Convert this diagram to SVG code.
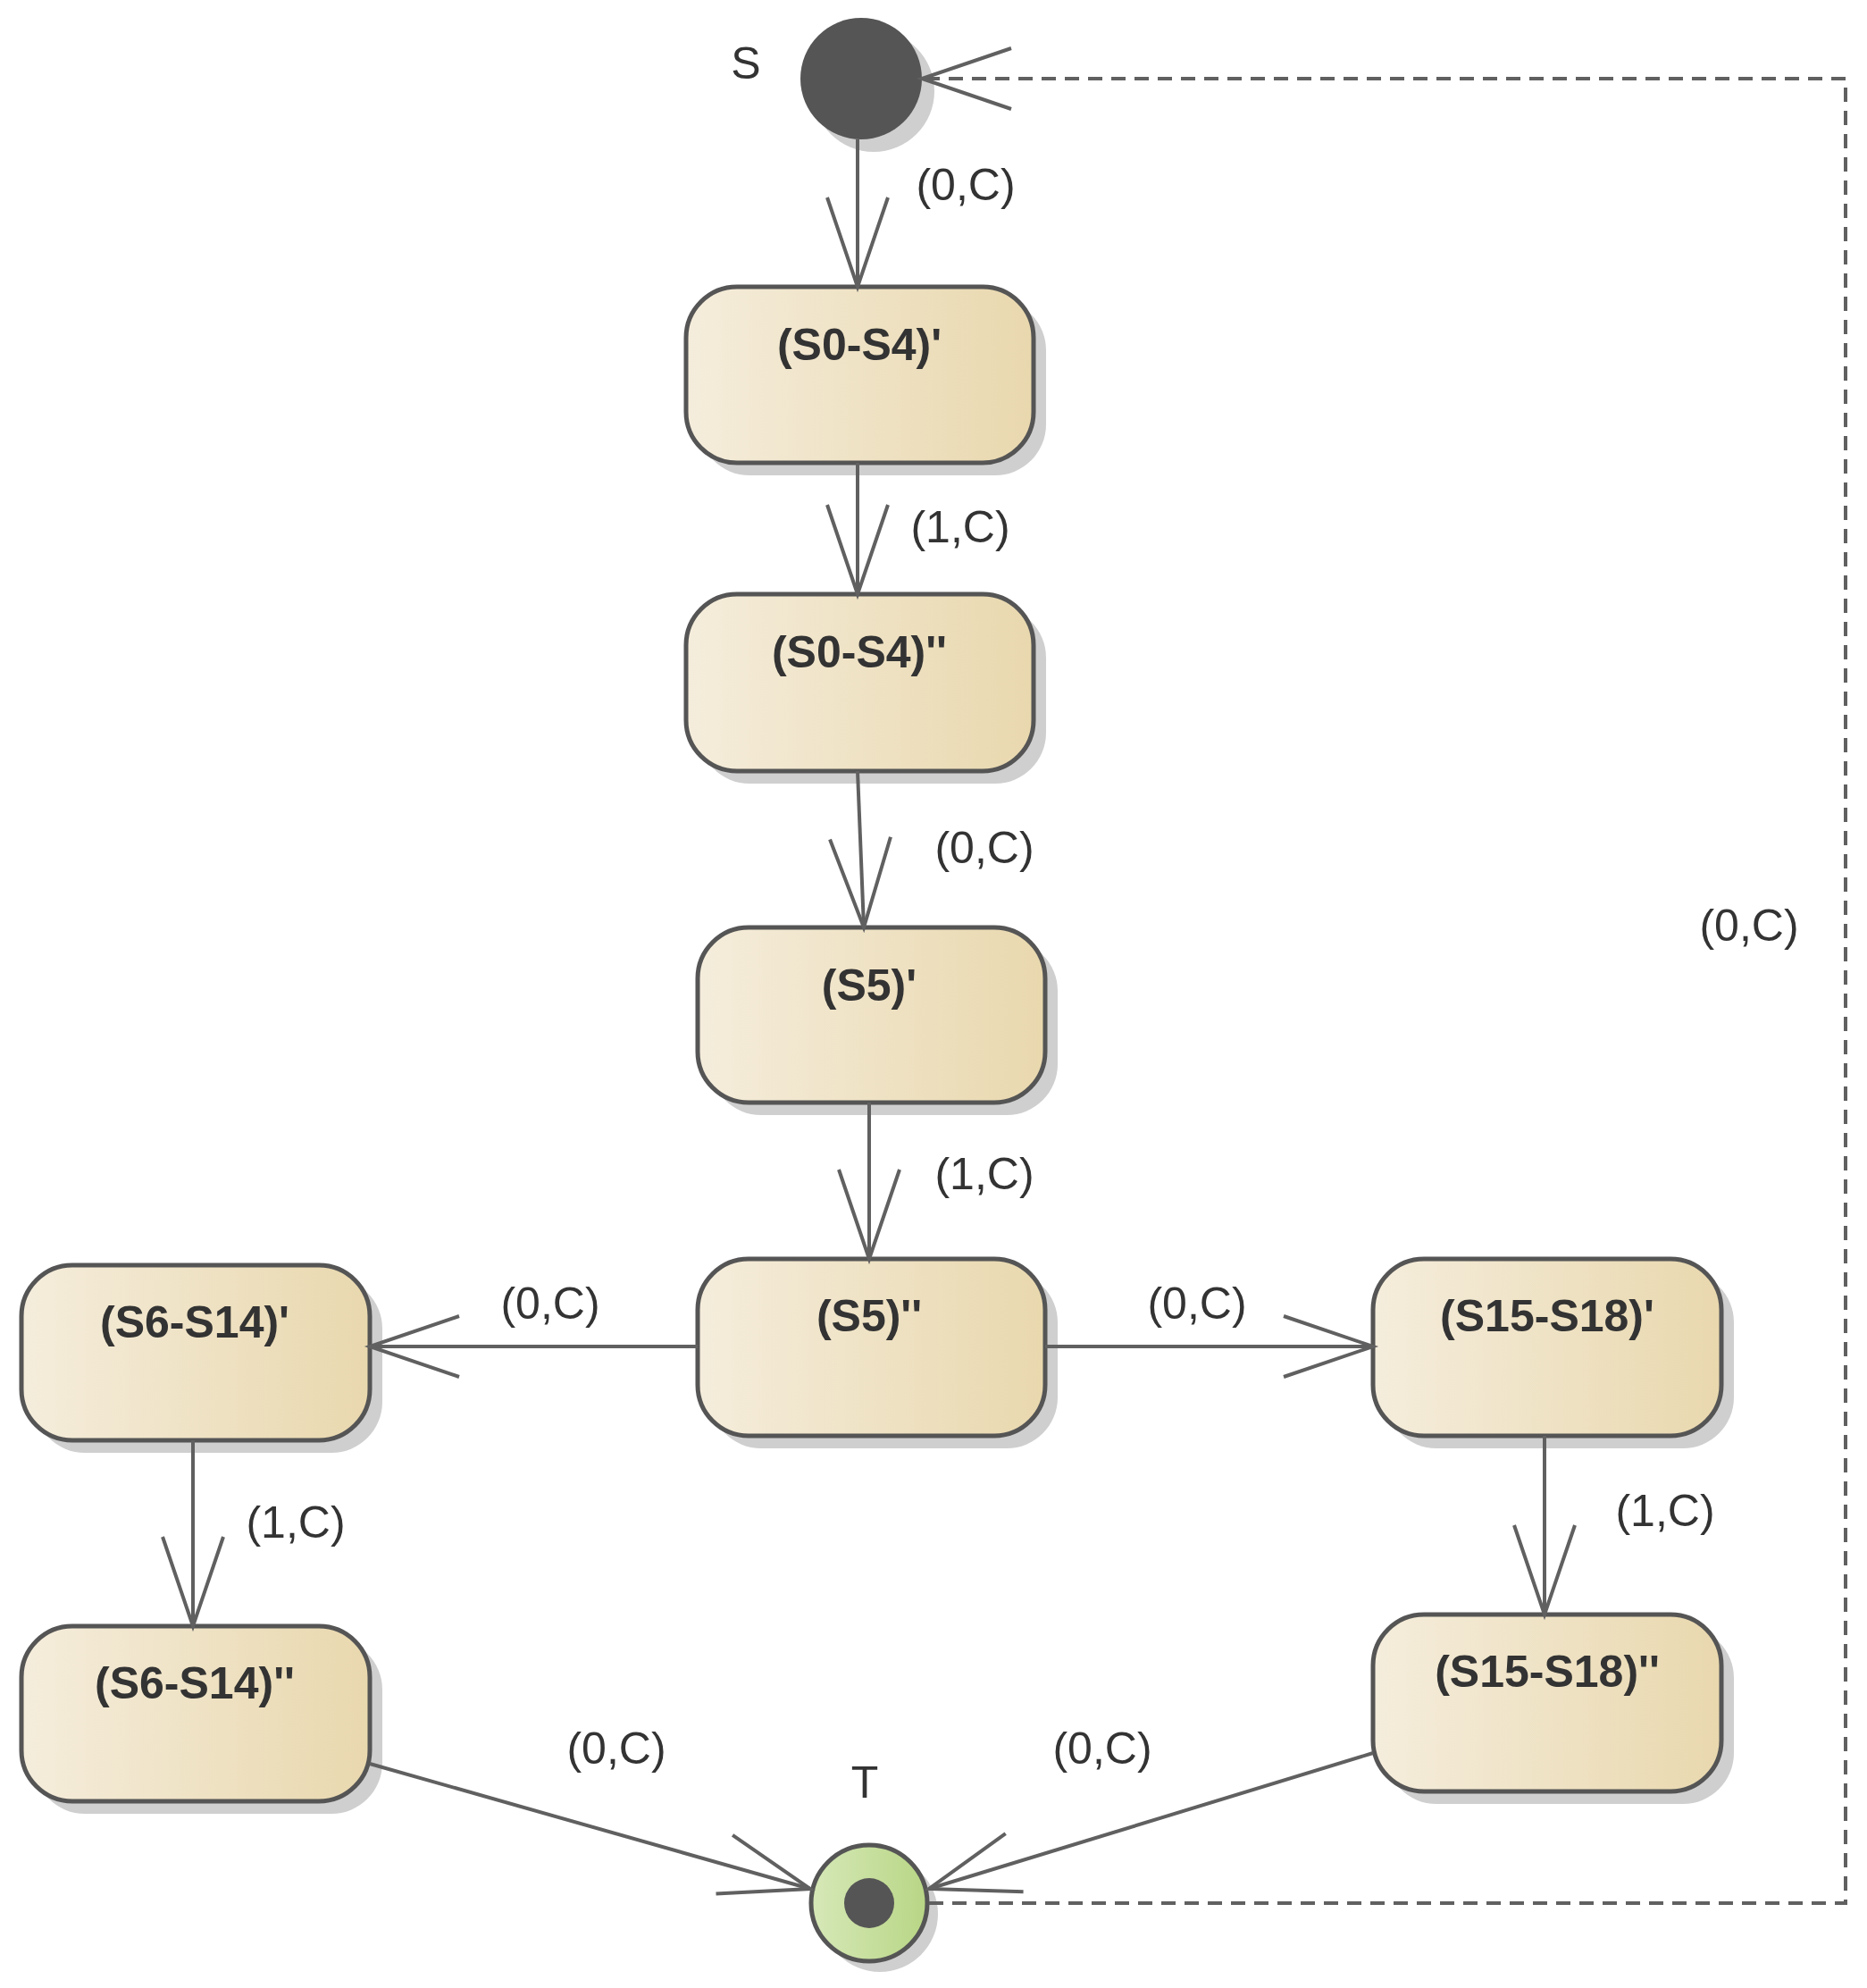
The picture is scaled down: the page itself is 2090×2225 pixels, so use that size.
<svg xmlns="http://www.w3.org/2000/svg" width="2090" height="2225" viewBox="0 0 2090 2225">
<style>
.box{fill:url(#g);stroke:#555;stroke-width:5}
.sh{fill:#cfcfcf}
.nt{font-family:"Liberation Sans",Arial,sans-serif;font-weight:bold;font-size:50px;fill:#333;text-anchor:middle}
.lb{font-family:"Liberation Sans",Arial,sans-serif;font-size:50px;fill:#333;text-anchor:middle}
.c{fill:none;stroke:#606060;stroke-width:4;marker-end:url(#a)}
.d{fill:none;stroke:#606060;stroke-width:4;stroke-dasharray:16 10;marker-end:url(#a)}
</style>
<defs>
<linearGradient id="g" x1="0" x2="1" y1="0" y2="0"><stop offset="0" stop-color="#f5eddc"/><stop offset="1" stop-color="#e9d8ae"/></linearGradient>
<linearGradient id="gg" x1="0" x2="1"><stop offset="0" stop-color="#d6e8b8"/><stop offset="1" stop-color="#b8d685"/></linearGradient>
<marker id="a" markerUnits="userSpaceOnUse" markerWidth="120" markerHeight="90" viewBox="-110 -45 120 90" refX="0" refY="0" orient="auto"><path d="M-100,-34 L0,0 L-100,34" fill="none" stroke="#606060" stroke-width="4"/></marker>
</defs>
<g id="S"><circle cx="978" cy="102" r="68" class="sh"/><circle cx="964" cy="88" r="68" fill="#555"/><text x="835" y="88" class="lb">S</text></g>
<g id="n1"><rect x="782" y="335" width="389" height="197" rx="57" class="sh"/><rect x="768" y="321" width="389" height="197" rx="57" class="box"/><text x="962" y="403" class="nt">(S0-S4)'</text></g>
<g id="n2"><rect x="782" y="679" width="389" height="198" rx="57" class="sh"/><rect x="768" y="665" width="389" height="198" rx="57" class="box"/><text x="962" y="747" class="nt">(S0-S4)''</text></g>
<g id="n3"><rect x="795" y="1052" width="389" height="196" rx="57" class="sh"/><rect x="781" y="1038" width="389" height="196" rx="57" class="box"/><text x="973" y="1120" class="nt">(S5)'</text></g>
<g id="n4"><rect x="795" y="1423" width="389" height="198" rx="57" class="sh"/><rect x="781" y="1409" width="389" height="198" rx="57" class="box"/><text x="973" y="1490" class="nt">(S5)''</text></g>
<g id="n5"><rect x="38" y="1430" width="390" height="196" rx="57" class="sh"/><rect x="24" y="1416" width="390" height="196" rx="57" class="box"/><text x="218" y="1497" class="nt">(S6-S14)'</text></g>
<g id="n6"><rect x="1551" y="1423" width="390" height="198" rx="57" class="sh"/><rect x="1537" y="1409" width="390" height="198" rx="57" class="box"/><text x="1732" y="1490" class="nt">(S15-S18)'</text></g>
<g id="n7"><rect x="38" y="1834" width="390" height="196" rx="57" class="sh"/><rect x="24" y="1820" width="390" height="196" rx="57" class="box"/><text x="218" y="1901" class="nt">(S6-S14)''</text></g>
<g id="n8"><rect x="1551" y="1821" width="390" height="198" rx="57" class="sh"/><rect x="1537" y="1807" width="390" height="198" rx="57" class="box"/><text x="1732" y="1888" class="nt">(S15-S18)''</text></g>
<g id="T"><circle cx="985" cy="2142" r="65" class="sh"/><circle cx="973" cy="2130" r="65" fill="url(#gg)" stroke="#555" stroke-width="5"/><circle cx="973" cy="2130" r="28" fill="#555"/><text x="968" y="2012" class="lb">T</text></g>
<g id="connectors">
<path class="c" d="M960,156 L960,321"/>
<path class="c" d="M960,518 L960,665"/>
<path class="c" d="M960,863 L967,1038"/>
<path class="c" d="M973,1234 L973,1409"/>
<path class="c" d="M781,1507 L414,1507"/>
<path class="c" d="M1170,1507 L1537,1507"/>
<path class="c" d="M216,1612 L216,1820"/>
<path class="c" d="M1729,1607 L1729,1807"/>
<path class="c" d="M414,1974 L907,2114"/>
<path class="c" d="M1537,1962 L1040,2114"/>
<path class="d" d="M1040,2130 L2066,2130 L2066,88 L1032,88"/>
<text x="1081" y="224" class="lb">(0,C)</text>
<text x="1075" y="607" class="lb">(1,C)</text>
<text x="1102" y="966" class="lb">(0,C)</text>
<text x="1958" y="1053" class="lb">(0,C)</text>
<text x="1102" y="1331" class="lb">(1,C)</text>
<text x="616" y="1476" class="lb">(0,C)</text>
<text x="1340" y="1476" class="lb">(0,C)</text>
<text x="331" y="1721" class="lb">(1,C)</text>
<text x="1864" y="1708" class="lb">(1,C)</text>
<text x="690" y="1974" class="lb">(0,C)</text>
<text x="1234" y="1974" class="lb">(0,C)</text>
</g>
</svg>
